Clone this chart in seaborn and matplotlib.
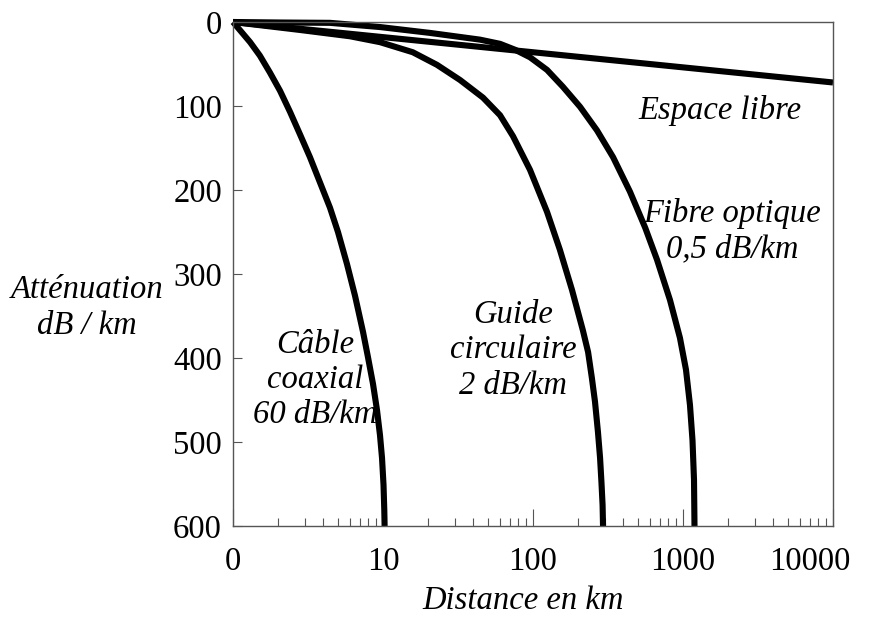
import pandas as pd
import matplotlib.pyplot as plt
import matplotlib.ticker as mticker
import matplotlib.transforms as mtransforms
import seaborn as sns

sns.set_style("white")
plt.rcParams['font.family'] = ['Liberation Serif', 'DejaVu Serif']
plt.rcParams['text.color'] = 'black'
plt.rcParams['axes.labelcolor'] = 'black'

# values (distance in km, attenuation in dB)
coax_km = [1, 1.11, 1.30, 1.51, 1.76, 2.06, 2.40, 2.80, 3.26, 3.80, 4.43, 5.01, 5.75, 6.51,
           7.36, 7.94, 8.58, 9.12, 9.55, 9.85, 10.08, 10.20, 10.25]
coax_db = [0, 9.5, 24, 40, 60, 82, 107, 134, 161, 191, 221, 250, 288, 326, 369, 399, 431,
           462, 492, 519, 551, 581, 600]

guide_km = [1, 2.80, 6.03, 9.55, 15.8, 22.9, 32.6, 46.4, 60.3, 73.6, 95.5, 124, 151, 182,
            215, 233, 247, 259, 271, 280, 286, 291, 293]
guide_db = [0, 9.5, 17, 24, 36, 51, 69, 90, 111, 136, 176, 226, 271, 319, 367, 393, 424,
            452, 488, 519, 548, 575, 600]

fibre_km = [1, 2.06, 4.43, 9.55, 20.6, 44.3, 60.3, 75.9, 95.5, 124, 158, 206, 267, 342, 443,
            560, 671, 819, 954, 1047, 1113, 1157, 1184, 1193]
fibre_db = [0, 0.6, 1, 6, 13, 21, 26, 33, 42, 57, 77, 101, 129, 161, 202, 245, 283, 331, 376,
            414, 456, 498, 545, 600]

libre_km = [1, 10, 100, 1000, 10000]
libre_db = [0, 18, 36, 54, 72]

x_ticks = [1, 10, 100, 1000, 10000]
x_labels = ['0', '10', '100', '1000', '10000']
y_ticks = [0, 100, 200, 300, 400, 500, 600]

frames = []
for name, xs, ys in [("coax", coax_km, coax_db), ("guide", guide_km, guide_db),
                     ("fibre", fibre_km, fibre_db), ("libre", libre_km, libre_db)]:
    frames.append(pd.DataFrame({"distance": xs, "attenuation": ys, "support": name}))
df = pd.concat(frames, ignore_index=True)

fig = plt.figure(figsize=(8.75, 6.18), dpi=100)
ax = fig.add_axes([233 / 875, 92 / 618, 600 / 875, 504 / 618])

sns.lineplot(data=df, x="distance", y="attenuation", hue="support", estimator=None,
             sort=False, palette=["black"] * 4, linewidth=4.4, legend=False, ax=ax,
             clip_on=False, solid_joinstyle='round', solid_capstyle='butt')

ax.set_xscale('log')
ax.set_xlim(1, 10000)
ax.set_ylim(600, 0)

ax.set_xticks(x_ticks, labels=x_labels)
ax.xaxis.set_minor_locator(mticker.LogLocator(base=10, subs=range(2, 10)))
ax.xaxis.set_minor_formatter(mticker.NullFormatter())
ax.set_yticks(y_ticks)

ax.tick_params(axis='x', which='major', bottom=True, direction='in', length=12.5, width=0.8,
               color='#555555', labelcolor='black', pad=15, labelsize=23.5)
ax.tick_params(axis='x', which='minor', bottom=True, direction='in', length=6, width=0.8,
               color='#555555')
ax.tick_params(axis='y', left=True, direction='in', length=6.5, width=0.8, color='#555555',
               labelcolor='black', pad=8, labelsize=23.5)

# the last x label sits a bit left of its tick
shift = mtransforms.ScaledTranslation(-0.23, 0, fig.dpi_scale_trans)
last = ax.get_xticklabels()[-1]
last.set_transform(last.get_transform() + shift)

for sp in ax.spines.values():
    sp.set_color('#555555')
    sp.set_linewidth(1)

ax.set_xlabel("Distance en km", fontsize=23.5, style='italic')
ax.xaxis.set_label_coords(0.483, -0.119)
ax.set_ylabel("Atténuation\ndB / km", fontsize=23.5, style='italic', rotation=0,
              ha='center', va='center', linespacing=1.2)
ax.yaxis.set_label_coords(-0.243, 0.433)

txt = dict(transform=ax.transAxes, fontsize=23.5, style='italic', ha='center', va='center')
ax.text(0.812, 0.825, "Espace libre", **txt)
ax.text(0.832, 0.585, "Fibre optique\n0,5 dB/km", **txt)
ax.text(0.467, 0.349, "Guide\ncirculaire\n2 dB/km", **txt)
ax.text(0.137, 0.290, "Câble\ncoaxial\n60 dB/km", **txt)

fig.savefig("out.png", dpi=100)
